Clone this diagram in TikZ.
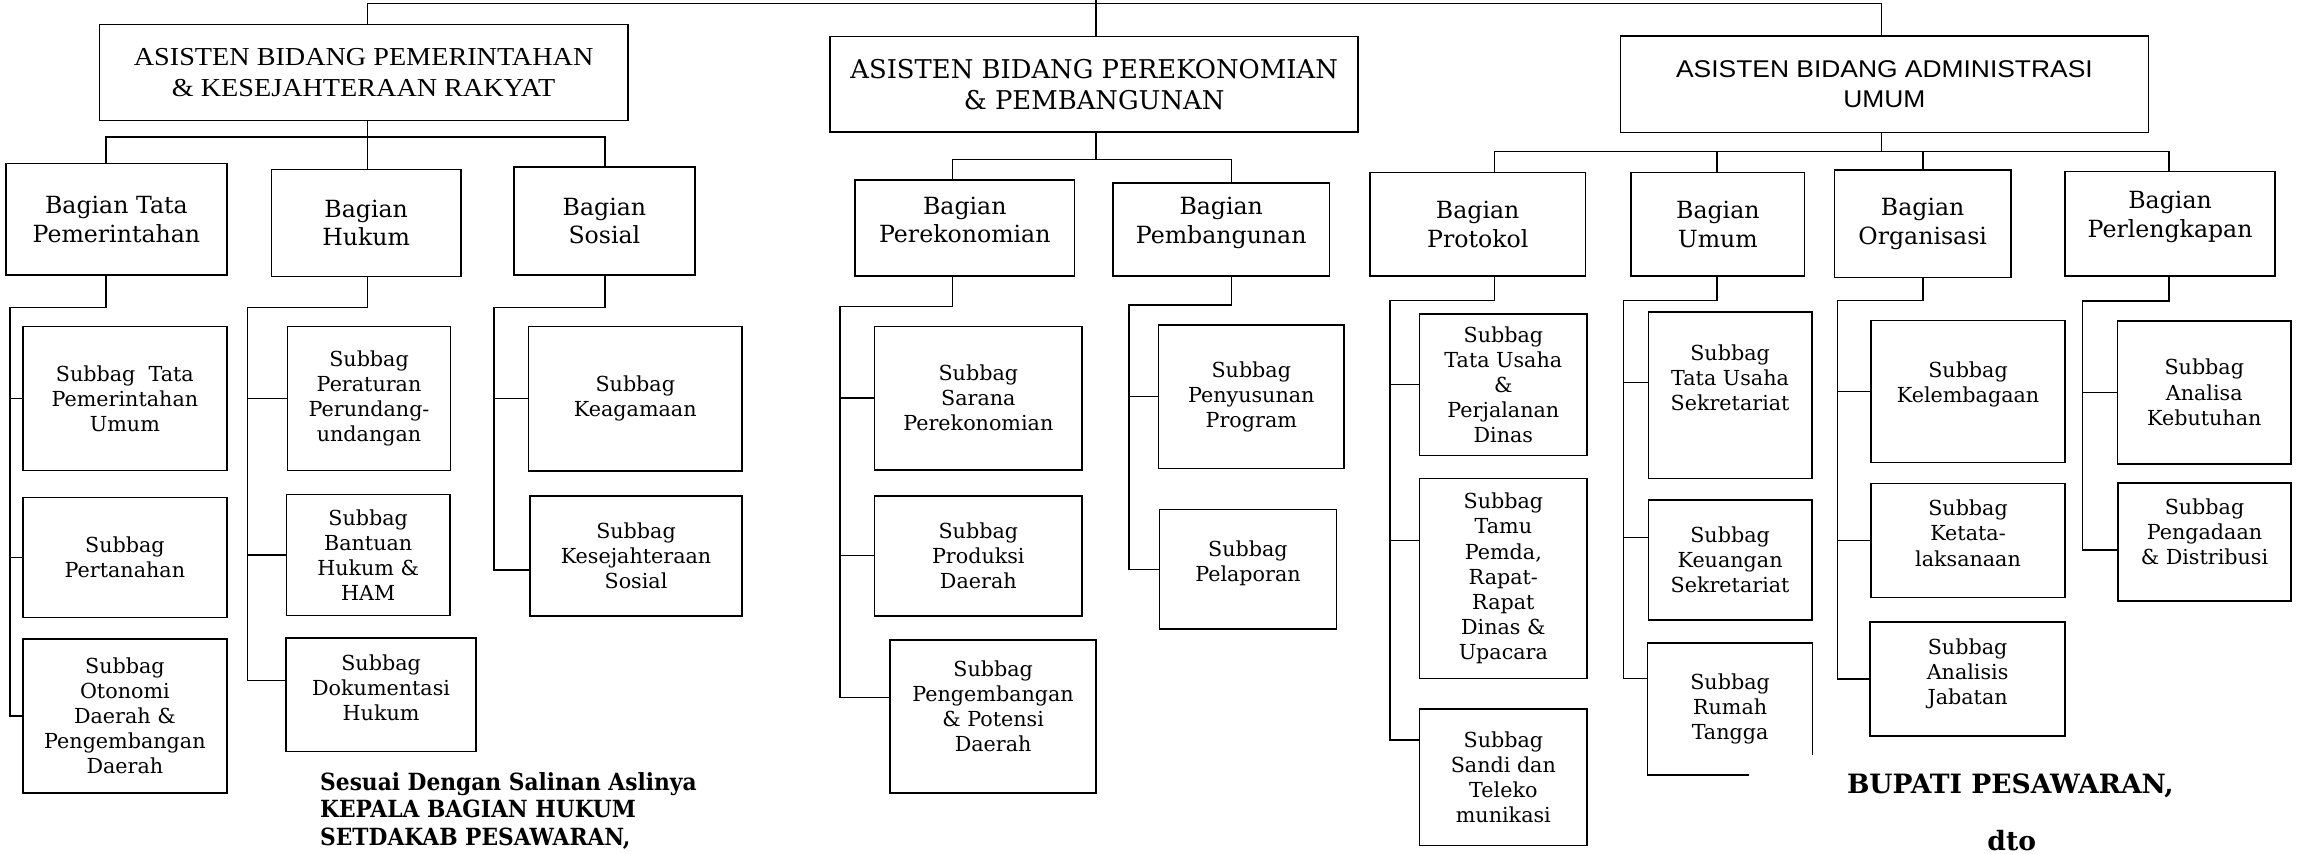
\documentclass[tikz,border=0pt]{standalone}
\usepackage{fontspec}
\setmainfont{DejaVu Serif}
\newfontfamily\pemfont{Liberation Serif}[FakeStretch=1.09]
\newfontfamily\admfont{Liberation Sans}[FakeStretch=1.09]
\newfontfamily\ttdfont{DejaVu Serif}[FakeStretch=0.92]
\tikzset{
  unit/.style={draw, line width=1.1pt, align=center, inner sep=0pt},
  asisten/.style={unit, font=\fontsize{17.5}{21}\selectfont},
  bagian/.style={unit, font=\fontsize{16}{19.3}\selectfont},
  subbag/.style={unit, font=\fontsize{14}{17}\selectfont},
  boxsize/.style 2 args={minimum width=#1pt, minimum height=#2pt},
  textup/.style={text depth=#1pt},
  link/.style={line width=0.9pt},
  ttd/.style={font=\ttdfont\bfseries\fontsize{16}{18.9}\selectfont, align=left, inner sep=0pt}
}
\begin{document}
\begin{tikzpicture}[x=1pt, y=-1pt]
\useasboundingbox (0,0) rectangle (1568,578);

% asisten
\node[asisten, boxsize={357.6}{65.2}, font=\pemfont\fontsize{17.5}{21}\selectfont] (a1) at (246.2,49.1) {ASISTEN BIDANG PEMERINTAHAN\\\& KESEJAHTERAAN RAKYAT};
\node[asisten, boxsize={357.5}{64.6}] (a2) at (740.75,57) {ASISTEN BIDANG PEREKONOMIAN\\\& PEMBANGUNAN};
\node[asisten, boxsize={357.6}{65.2}, font=\admfont\fontsize{16.4}{20.3}\selectfont] (a3) at (1275.8,57) {ASISTEN BIDANG ADMINISTRASI\\UMUM};

% bagian
\node[bagian, boxsize={149.6}{75.4}] (b11) at (78.8,148.5) {Bagian Tata\\Pemerintahan};
\node[bagian, boxsize={128}{72.4}] (b12) at (247.9,150.9) {Bagian\\Hukum};
\node[bagian, boxsize={122.6}{73.3}] (b13) at (409.2,149.55) {Bagian\\Sosial};
\node[bagian, boxsize={148.4}{65.3}, textup=11] (b21) at (653.2,154.35) {Bagian\\Perekonomian};
\node[bagian, boxsize={146.4}{63}, textup=13] (b22) at (826.8,155.5) {Bagian\\Pembangunan};
\node[bagian, boxsize={145.9}{70.3}] (b31) at (1000.45,151.85) {Bagian\\Protokol};
\node[bagian, boxsize={117.3}{70.3}] (b32) at (1163.05,151.85) {Bagian\\Umum};
\node[bagian, boxsize={119.4}{73}] (b33) at (1301.7,151.5) {Bagian\\Organisasi};
\node[bagian, boxsize={142.4}{70.7}, textup=12.7] (b34) at (1469.2,151.55) {Bagian\\Perlengkapan};

% subbag pemerintahan & kesra
\node[subbag, boxsize={138.1}{97.6}] (s111) at (84.55,269.8) {Subbag\ \ Tata\\Pemerintahan\\Umum};
\node[subbag, boxsize={138.1}{81.1}] (s112) at (84.55,377.45) {Subbag\\Pertanahan};
\node[subbag, boxsize={138.1}{104.5}] (s113) at (84.55,484.75) {Subbag\\Otonomi\\Daerah \&\\Pengembangan\\Daerah};
\node[subbag, boxsize={110.3}{97.6}] (s121) at (249.85,269.8) {Subbag\\Peraturan\\Perundang-\\undangan};
\node[subbag, boxsize={110.5}{81.7}] (s122) at (249.25,375.75) {Subbag\\Bantuan\\Hukum \&\\HAM};
\node[subbag, boxsize={128.6}{76.8}, textup=10] (s123) at (258,470.4) {Subbag\\Dokumentasi\\Hukum};
\node[subbag, boxsize={144.8}{98}] (s131) at (430.1,270) {Subbag\\Keagamaan};
\node[subbag, boxsize={143.8}{81.3}] (s132) at (430.6,376.25) {Subbag\\Kesejahteraan\\Sosial};

% subbag perekonomian & pembangunan
\node[subbag, boxsize={140.7}{97}] (s211) at (662.35,269.5) {Subbag\\Sarana\\Perekonomian};
\node[subbag, boxsize={140.7}{81.2}] (s212) at (662.35,376.3) {Subbag\\Produksi\\Daerah};
\node[subbag, boxsize={139.3}{103.3}, textup=14] (s213) at (672.35,485.15) {Subbag\\Pengembangan\\\& Potensi\\Daerah};
\node[subbag, boxsize={125.5}{97.3}] (s221) at (847.15,268.65) {Subbag\\Penyusunan\\Program};
\node[subbag, boxsize={119.8}{81}, textup=11] (s222) at (844.9,385.5) {Subbag\\Pelaporan};

% subbag administrasi umum
\node[subbag, boxsize={113.6}{95.9}] (s311) at (1017.8,260.35) {Subbag\\Tata Usaha\\\&\\Perjalanan\\Dinas};
\node[subbag, boxsize={113.6}{135.3}] (s312) at (1017.8,391.65) {Subbag\\Tamu\\Pemda,\\Rapat-\\Rapat\\Dinas \&\\Upacara};
\node[subbag, boxsize={113.6}{92.5}] (s313) at (1017.8,526.25) {Subbag\\Sandi dan\\Teleko\\munikasi};
\node[subbag, boxsize={110.6}{112.6}, textup=24] (s321) at (1171.3,267.7) {Subbag\\Tata Usaha\\Sekretariat};
\node[subbag, boxsize={110.6}{81.5}] (s322) at (1171.3,379.05) {Subbag\\Keuangan\\Sekretariat};
\node[subbag, draw=none, boxsize={110.6}{88}] (s323) at (1171.3,480) {Subbag\\Rumah\\Tangga};
\node[subbag, boxsize={131.6}{96}, textup=13] (s331) at (1332.4,265) {Subbag\\Kelembagaan};
\node[subbag, boxsize={131.6}{77.2}, textup=10] (s332) at (1332.4,365.9) {Subbag\\Ketata-\\laksanaan};
\node[subbag, boxsize={132.2}{77.2}, textup=10] (s333) at (1332.1,459.6) {Subbag\\Analisis\\Jabatan};
\node[subbag, boxsize={117.3}{96.7}] (s341) at (1492.35,265.65) {Subbag\\Analisa\\Kebutuhan};
\node[subbag, boxsize={117}{79.7}, textup=14] (s342) at (1492.5,366.85) {Subbag\\Pengadaan\\\& Distribusi};

% tanda tangan
\node[ttd, anchor=west] (salinan) at (216.6,549) {Sesuai Dengan Salinan Aslinya\\KEPALA BAGIAN HUKUM\\SETDAKAB PESAWARAN,};
\node[font=\bfseries\fontsize{18}{21}\selectfont, inner sep=0pt] (bupati) at (1361,531.8) {BUPATI PESAWARAN,};
\node[font=\bfseries\fontsize{18}{21}\selectfont, inner sep=0pt] (dto) at (1362,569) {dto};

% garis atas
\coordinate (sekda) at (742,0);
\coordinate (topl) at (248.6,2.3);
\coordinate (topr) at (1274,2.3);
\draw[link] (sekda) -- (sekda |- a2.north);
\draw[link] (a1.north -| topl) -- (topl) -- (topr) -- (a3.north -| topr);

% asisten 1
\coordinate (bus1) at (248.6,92.8);
\coordinate (bus1l) at (71.7,92.8);
\coordinate (bus1r) at (409.5,92.8);
\draw[link] (a1.south -| bus1) -- (b12.north -| bus1);
\draw[link] (b11.north -| bus1l) -- (bus1l) -- (bus1r) -- (b13.north -| bus1r);

% bagian tata pemerintahan
\coordinate (k11) at (6.7,208.3);
\draw[link] (b11.south -| bus1l) |- (k11) |- (s113.west);
\draw[link] (k11 |- s111.west) -- (s111.west);
\draw[link] (k11 |- s112.west) -- (s112.west);

% bagian hukum
\coordinate (k12) at (167.4,208.3);
\coordinate (j123) at (167.4,460.8);
\draw[link] (b12.south -| bus1) |- (k12) -- (j123) -- (j123 -| s123.west);
\draw[link] (k12 |- s121.west) -- (s121.west);
\draw[link] (k12 |- s122.west) -- (s122.west);

% bagian sosial
\coordinate (k13) at (334.4,208.3);
\coordinate (j132) at (334.4,386);
\draw[link] (b13.south -| bus1r) |- (k13) -- (j132) -- (j132 -| s132.west);
\draw[link] (k13 |- s131.west) -- (s131.west);

% asisten 2
\coordinate (bus2) at (742,108);
\coordinate (bus2l) at (645,108);
\coordinate (bus2r) at (833.6,108);
\draw[link] (a2.south -| bus2) -- (bus2);
\draw[link] (b21.north -| bus2l) -- (bus2l) -- (bus2r) -- (b22.north -| bus2r);

% bagian perekonomian
\coordinate (k21) at (568.7,207.7);
\coordinate (j213) at (568.7,472.2);
\draw[link] (b21.south -| bus2l) |- (k21) -- (j213) -- (j213 -| s213.west);
\draw[link] (k21 |- s211.west) -- (s211.west);
\draw[link] (k21 |- s212.west) -- (s212.west);

% bagian pembangunan
\coordinate (k22) at (764.3,206.6);
\draw[link] (b22.south -| bus2r) |- (k22) |- (s222.west);
\draw[link] (k22 |- s221.west) -- (s221.west);

% asisten 3
\coordinate (bus3) at (1274,102.7);
\coordinate (bus3a) at (1012,102.7);
\coordinate (bus3b) at (1162.5,102.7);
\coordinate (bus3c) at (1301.8,102.7);
\coordinate (bus3d) at (1468.5,102.7);
\draw[link] (a3.south -| bus3) -- (bus3);
\draw[link] (b31.north -| bus3a) -- (bus3a) -- (bus3d) -- (b34.north -| bus3d);
\draw[link] (bus3b) -- (b32.north -| bus3b);
\draw[link] (bus3c) -- (b33.north -| bus3c);

% bagian protokol
\coordinate (k31) at (941,203.6);
\coordinate (j312) at (941,366);
\coordinate (j313) at (941,501);
\draw[link] (b31.south -| bus3a) |- (k31) -- (j313) -- (j313 -| s313.west);
\draw[link] (k31 |- s311.west) -- (s311.west);
\draw[link] (j312) -- (j312 -| s312.west);

% bagian umum
\coordinate (k32) at (1099,203.6);
\coordinate (j321) at (1099,258.9);
\coordinate (j322) at (1099,363.8);
\coordinate (j323) at (1099,459.3);
\draw[link] (b32.south -| bus3b) |- (k32) -- (j323) -- (j323 -| s323.west);
\draw[link] (j321) -- (j321 -| s321.west);
\draw[link] (j322) -- (j322 -| s322.west);
\draw[line width=1.1pt] ([yshift=13.6pt]s323.south east) -- (s323.north east) -- (s323.north west) -- (s323.south west) -- ([xshift=68.6pt]s323.south west); % terpotong

% bagian organisasi
\coordinate (k33) at (1244,203.6);
\draw[link] (b33.south -| bus3c) |- (k33) |- (s333.west);
\draw[link] (k33 |- s331.west) -- (s331.west);
\draw[link] (k33 |- s332.west) -- (s332.west);

% bagian perlengkapan
\coordinate (k34) at (1409.7,203.8);
\coordinate (j342) at (1409.7,372.4);
\draw[link] (b34.south -| bus3d) |- (k34) -- (j342) -- (j342 -| s342.west);
\draw[link] (k34 |- s341.west) -- (s341.west);
\end{tikzpicture}
\end{document}
